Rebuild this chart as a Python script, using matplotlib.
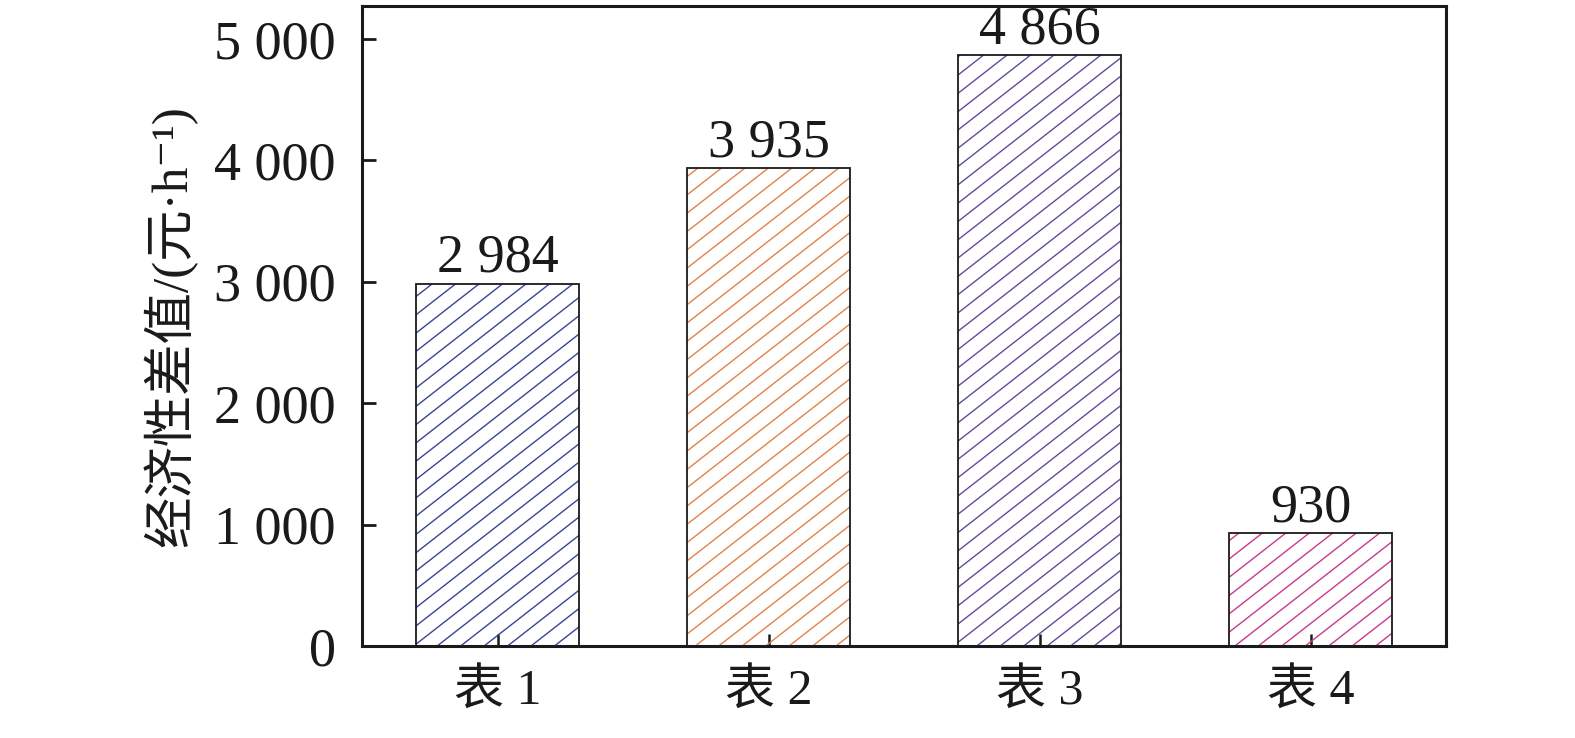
import matplotlib
matplotlib.use("Agg")
import matplotlib.pyplot as plt
import numpy as np
from matplotlib.collections import LineCollection
from matplotlib.ticker import FuncFormatter

# ---- data ----
categories = ["表 1", "表 2", "表 3", "表 4"]
values = [2984, 3935, 4866, 930]
value_labels = ["2 984", "3 935", "4 866", "930"]
hatch_colors = ["#3a4494", "#e0834a", "#67499c", "#c93a8c"]
yticks = [0, 1000, 2000, 3000, 4000, 5000]

FAM = ["Liberation Serif", "Noto Sans CJK SC", "DejaVu Sans"]
plt.rcParams['font.family'] = FAM

W, H, DPI = 1575, 738, 100
fig = plt.figure(figsize=(W / DPI, H / DPI), dpi=DPI)
left, right, top, bottom = 362 / W, 1446 / W, 1 - 6 / H, 1 - 646 / H
ax = fig.add_axes([left, bottom, right - left, top - bottom])

x = np.arange(len(categories))
bars = ax.bar(x, values, width=0.6, facecolor="white", edgecolor="#1a1a1a",
              linewidth=1.3, zorder=2)

ax.set_xlim(-0.5, 3.5)
ax.set_ylim(0, 5270)

# hatch lines (decoration, clipped to each bar)
axw_px = (right - left) * W
axh_px = (top - bottom) * H
slope = 0.78
spacing = 18.3
offsets = np.arange(-slope * axw_px, axh_px + spacing, spacing)
for b, col in zip(bars, hatch_colors):
    segs = []
    for c in offsets:
        x0, x1 = 0.0, axw_px
        y0, y1 = c, c + slope * axw_px
        segs.append([(x0 / axw_px, y0 / axh_px), (x1 / axw_px, y1 / axh_px)])
    lc = LineCollection(segs, colors=col, linewidths=1.0, transform=ax.transAxes, zorder=3)
    ax.add_collection(lc)
    lc.set_clip_path(b)

for b in bars:
    b.set_zorder(4)
    b.set_facecolor("none")

# value labels
for xi, v, lab in zip(x, values, value_labels):
    ax.text(xi, v, lab, ha="center", va="bottom", fontsize=39, family=FAM, color="#1a1a1a")

ax.set_yticks(yticks)
ax.yaxis.set_major_formatter(FuncFormatter(lambda v, p: "{:,}".format(int(v)).replace(",", " ")))
ax.set_xticks(x)
ax.set_xticklabels(categories, family=FAM, fontsize=36)

for lab in ax.get_yticklabels():
    lab.set_fontsize(39)
    lab.set_family(FAM)

ax.tick_params(axis="y", direction="in", length=10, width=2, pad=19, colors="#1a1a1a", labelcolor="#1a1a1a")
ax.tick_params(axis="x", direction="in", length=9, width=1.8, pad=16, colors="#1a1a1a", labelcolor="#1a1a1a")
for s in ax.spines.values():
    s.set_linewidth(2.2)
    s.set_color("#1a1a1a")

ax.set_ylabel("经济性差值/(元·h⁻¹)", fontsize=37, family=FAM, color="#1a1a1a")
ax.yaxis.set_label_coords(-0.152, 0.5)

fig.savefig("out.png", dpi=DPI)
